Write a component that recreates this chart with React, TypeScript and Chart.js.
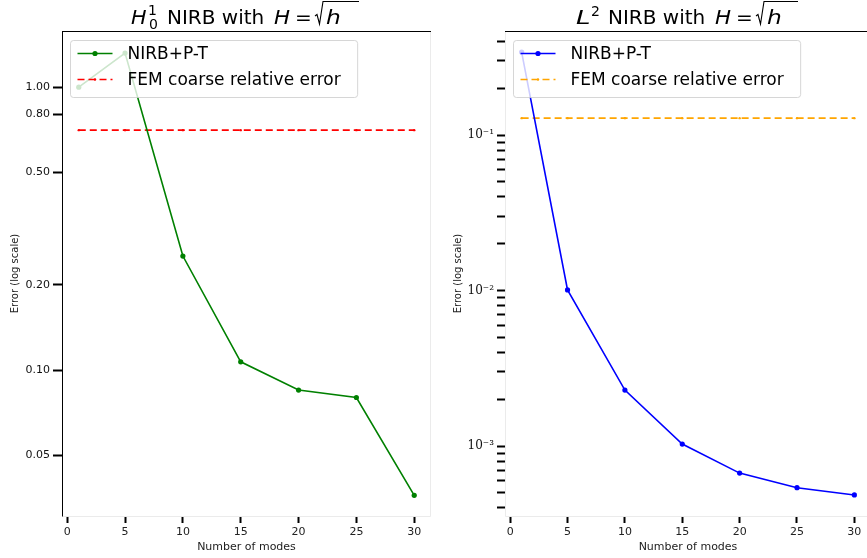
import React, { useEffect, useRef } from "react";
import { Chart, registerables } from "chart.js";

Chart.register(...registerables);

// ---------------- data ----------------
const modes = [1, 5, 10, 15, 20, 25, 30];
const h1NirbErrors = [1.0, 1.32, 0.253, 0.107, 0.085, 0.08, 0.0361];
const h1FemErrors = [0.705, 0.705, 0.705, 0.705, 0.705, 0.705, 0.705];
const l2NirbErrors = [0.342, 0.0101, 0.00229, 0.00103, 0.00067, 0.00054, 0.000485];
const l2FemErrors = [0.1285, 0.1285, 0.1285, 0.1285, 0.1285, 0.1285, 0.1285];

const seriesLabels = ["NIRB+P-T", "FEM coarse relative error"];
const xTitle = "Number of modes";
const yTitle = "Error (log scale)";

const xTickValues = [0, 5, 10, 15, 20, 25, 30];
const h1TickValues = [0.05, 0.1, 0.2, 0.5, 0.8, 1.0];
const h1TickLabels = ["0.05", "0.10", "0.20", "0.50", "0.80", "1.00"];
const l2TickValues = [
  0.0004, 0.0005, 0.0006, 0.0007, 0.0008, 0.0009,
  0.001, 0.002, 0.003, 0.004, 0.005, 0.006, 0.007, 0.008, 0.009,
  0.01, 0.02, 0.03, 0.04, 0.05, 0.06, 0.07, 0.08, 0.09,
  0.1, 0.2, 0.3, 0.4,
];
const l2MajorTicks = [0.001, 0.01, 0.1];
const l2MajorLabels = ["10\u207B\u00B3", "10\u207B\u00B2", "10\u207B\u00B9"];

// title pieces: dx = where the ink of the piece starts inside the title, w = ink width of math letters
type Seg = {
  dx: number;
  text?: string;
  italic?: boolean;
  w?: number;
  sup?: string;
  sub?: string;
  supY?: number;
  sqrt?: string;
  over?: number;
};
const h1Title = {
  width: 231,
  segs: [
    { dx: 0, text: "H", italic: true, w: 15.5 },
    { dx: 18, sup: "1", sub: "0", supY: -9 },
    { dx: 37, text: "NIRB with" },
    { dx: 143, text: "H", italic: true, w: 16 },
    { dx: 166, text: "=" },
    { dx: 184, sqrt: "h", w: 14, over: 228 },
  ] as Seg[],
};
const l2Title = {
  width: 224,
  segs: [
    { dx: 0, text: "L", italic: true, w: 13 },
    { dx: 16, sup: "2", supY: -8 },
    { dx: 33, text: "NIRB with" },
    { dx: 139, text: "H", italic: true, w: 16 },
    { dx: 162, text: "=" },
    { dx: 180, sqrt: "h", w: 14, over: 222 },
  ] as Seg[],
};

// ---------------- helpers ----------------
const FAM = "'DejaVu Sans'";
const fnt = (italic: boolean, size: number) => `${italic ? "italic " : ""}${size}px ${FAM}`;

function drawInk(ctx: CanvasRenderingContext2D, t: string, x: number, y: number, w?: number) {
  const m = ctx.measureText(t);
  const ink = m.actualBoundingBoxLeft + m.actualBoundingBoxRight;
  const sx = w && ink > 0 ? w / ink : 1;
  ctx.save();
  ctx.translate(x, y);
  ctx.scale(sx, 1);
  ctx.fillText(t, m.actualBoundingBoxLeft, 0);
  ctx.restore();
}

function drawRichTitle(ctx: CanvasRenderingContext2D, title: { width: number; segs: Seg[] }, cx: number, by: number) {
  const base = 20;
  const small = 14;
  const x0 = cx - title.width / 2;
  ctx.save();
  ctx.fillStyle = "#000";
  ctx.strokeStyle = "#000";
  ctx.textBaseline = "alphabetic";
  ctx.textAlign = "left";
  for (const s of title.segs) {
    const x = x0 + s.dx;
    if (s.sqrt !== undefined) {
      const end = x0 + (s.over ?? title.width);
      ctx.lineWidth = 1.1;
      ctx.beginPath();
      ctx.moveTo(x, by - 8);
      ctx.lineTo(x + 2, by - 9.5);
      ctx.lineTo(x + 4.5, by);
      ctx.lineTo(x + 8, by - 22.5);
      ctx.lineTo(end, by - 22.5);
      ctx.stroke();
      ctx.font = fnt(true, base);
      drawInk(ctx, s.sqrt, x + 11, by, s.w);
    } else if (s.sup !== undefined || s.sub !== undefined) {
      ctx.font = fnt(false, small);
      if (s.sup) drawInk(ctx, s.sup, x, by + (s.supY ?? -9));
      if (s.sub) drawInk(ctx, s.sub, x, by + 5);
    } else {
      ctx.font = fnt(!!s.italic, base);
      drawInk(ctx, s.text || "", x, by, s.w);
    }
  }
  ctx.restore();
}

const titlePlugin = {
  id: "richTitle",
  afterDraw(chart: any, _args: any, opts: any) {
    const ca = chart.chartArea;
    drawRichTitle(chart.ctx, opts.title, (ca.left + ca.right) / 2, 24);
  },
};

const spinePlugin = {
  id: "spines",
  beforeDatasetsDraw(chart: any, _args: any, opts: any) {
    const { ctx, chartArea: ca } = chart;
    const l = Math.round(ca.left) + 0.5;
    const r = Math.round(ca.right) - 0.5;
    const t = Math.round(ca.top) + 0.5;
    const b = Math.round(ca.bottom) + 0.5;
    ctx.save();
    ctx.lineWidth = 1;
    ctx.strokeStyle = "#ebebeb";
    ctx.beginPath();
    ctx.moveTo(l, b);
    ctx.lineTo(r, b);
    ctx.moveTo(r, t);
    ctx.lineTo(r, b);
    ctx.stroke();
    ctx.strokeStyle = opts.leftColor;
    ctx.beginPath();
    ctx.moveTo(l, t);
    ctx.lineTo(l, b);
    ctx.stroke();
    ctx.strokeStyle = "#000";
    ctx.beginPath();
    ctx.moveTo(ca.left, t);
    ctx.lineTo(ca.right, t);
    ctx.stroke();
    ctx.restore();
  },
};

const legendPlugin = {
  id: "boxLegend",
  afterDraw(chart: any) {
    const { ctx, chartArea: ca } = chart;
    const bx = ca.left + 8.5;
    const by = ca.top + 9.5;
    const textOff = 57;
    ctx.save();
    ctx.font = fnt(false, 17);
    let maxW = 0;
    chart.data.datasets.forEach((ds: any) => {
      maxW = Math.max(maxW, ctx.measureText(ds.label).width);
    });
    const bw = textOff + maxW + 17;
    const bh = 57;
    ctx.fillStyle = "rgba(255,255,255,0.8)";
    ctx.strokeStyle = "rgba(204,204,204,0.8)";
    ctx.lineWidth = 1;
    ctx.beginPath();
    (ctx as any).roundRect(bx, by, bw, bh, 3);
    ctx.fill();
    ctx.stroke();
    chart.data.datasets.forEach((ds: any, i: number) => {
      const y = by + 13 + i * 26;
      ctx.strokeStyle = ds.borderColor;
      ctx.lineWidth = ds.borderWidth;
      ctx.setLineDash(ds.borderDash || []);
      ctx.beginPath();
      ctx.moveTo(bx + 7, y);
      ctx.lineTo(bx + 42, y);
      ctx.stroke();
      ctx.setLineDash([]);
      ctx.fillStyle = ds.borderColor;
      ctx.beginPath();
      ctx.arc(bx + 24.5, y, ds.pointRadius, 0, Math.PI * 2);
      ctx.fill();
      ctx.fillStyle = "#000";
      ctx.textBaseline = "middle";
      ctx.textAlign = "left";
      ctx.fillText(ds.label, bx + textOff, y + 1);
    });
    ctx.restore();
  },
};

type Params = {
  nirb: number[];
  fem: number[];
  lineColor: string;
  femColor: string;
  yMin: number;
  yMax: number;
  yTicks: number[];
  yLabel: (v: number) => string;
  yTickFont: any;
  yWidth: number;
  yTickLength: number;
  yTitlePad: number;
  yLabelPad: number;
  padRight: number;
  leftSpine: string;
  title: { width: number; segs: Seg[] };
};

function makeConfig(p: Params): any {
  return {
    type: "line",
    data: {
      datasets: [
        {
          label: seriesLabels[0],
          data: modes.map((m, i) => ({ x: m, y: p.nirb[i] })),
          borderColor: p.lineColor,
          backgroundColor: p.lineColor,
          borderWidth: 1.6,
          pointRadius: 2.6,
          pointBorderWidth: 0,
          pointBackgroundColor: p.lineColor,
          tension: 0,
        },
        {
          label: seriesLabels[1],
          data: modes.map((m, i) => ({ x: m, y: p.fem[i] })),
          borderColor: p.femColor,
          backgroundColor: p.femColor,
          borderWidth: 1.6,
          borderDash: [7, 4],
          pointRadius: 1.2,
          pointBorderWidth: 0,
          pointBackgroundColor: p.femColor,
          tension: 0,
        },
      ],
    },
    options: {
      animation: false,
      responsive: true,
      maintainAspectRatio: false,
      layout: { padding: { top: 31, right: p.padRight, left: 0, bottom: 0 } },
      plugins: {
        legend: { display: false },
        tooltip: { enabled: false },
        title: { display: false },
        richTitle: { title: p.title },
        spines: { leftColor: p.leftSpine },
      },
      scales: {
        x: {
          type: "linear",
          min: -0.45,
          max: 31.45,
          afterBuildTicks: (s: any) => {
            s.ticks = xTickValues.map((v) => ({ value: v }));
          },
          afterFit: (s: any) => {
            s.height = 42;
          },
          ticks: {
            autoSkip: false,
            maxRotation: 0,
            padding: 3,
            color: "#222",
            font: { family: "DejaVu Sans", size: 11 },
            callback: (v: number) => String(v),
          },
          grid: {
            display: true,
            drawOnChartArea: false,
            drawTicks: true,
            tickLength: 7,
            tickWidth: 2,
            tickColor: "#000",
          },
          border: { display: false },
          title: {
            display: true,
            text: xTitle,
            color: "#222",
            font: { family: "DejaVu Sans", size: 11 },
            padding: { top: 0, bottom: 4 },
          },
        },
        y: {
          type: "logarithmic",
          min: p.yMin,
          max: p.yMax,
          afterBuildTicks: (s: any) => {
            s.ticks = p.yTicks.map((v) => ({ value: v }));
          },
          afterFit: (s: any) => {
            s.width = p.yWidth;
          },
          ticks: {
            autoSkip: false,
            padding: p.yLabelPad,
            color: "#111",
            font: p.yTickFont,
            callback: (v: number) => p.yLabel(v),
          },
          grid: {
            display: true,
            drawOnChartArea: false,
            drawTicks: true,
            tickLength: p.yTickLength,
            tickWidth: 2,
            tickColor: "#000",
          },
          border: { display: false },
          title: {
            display: true,
            text: yTitle,
            color: "#222",
            font: { family: "DejaVu Sans", size: 10 },
            padding: { top: p.yTitlePad, bottom: 0 },
          },
        },
      },
    },
    plugins: [spinePlugin, legendPlugin, titlePlugin],
  };
}

const close = (a: number, b: number) => Math.abs(a - b) / b < 1e-6;

export default function App() {
  const leftRef = useRef<HTMLCanvasElement>(null);
  const rightRef = useRef<HTMLCanvasElement>(null);

  useEffect(() => {
    const left = new Chart(
      leftRef.current as HTMLCanvasElement,
      makeConfig({
        nirb: h1NirbErrors,
        fem: h1FemErrors,
        lineColor: "#008000",
        femColor: "#ff0000",
        yMin: 0.0305,
        yMax: 1.58,
        yTicks: h1TickValues,
        yLabel: (v) => {
          const i = h1TickValues.findIndex((t) => close(v, t));
          return i >= 0 ? h1TickLabels[i] : "";
        },
        yTickFont: { family: "DejaVu Sans", size: 11 },
        yWidth: 62,
        yTickLength: 9,
        yTitlePad: 9,
        yLabelPad: 3,
        padRight: 9,
        leftSpine: "#000",
        title: h1Title,
      })
    );
    const right = new Chart(
      rightRef.current as HTMLCanvasElement,
      makeConfig({
        nirb: l2NirbErrors,
        fem: l2FemErrors,
        lineColor: "#0000ff",
        femColor: "#ffa500",
        yMin: 0.000355,
        yMax: 0.467,
        yTicks: l2TickValues,
        yLabel: (v) => {
          const i = l2MajorTicks.findIndex((t) => close(v, t));
          return i >= 0 ? l2MajorLabels[i] : "";
        },
        yTickFont: { family: "DejaVu Serif", size: 12 },
        yWidth: 65,
        yTickLength: 8,
        yTitlePad: 12,
        yLabelPad: 3,
        padRight: 0,
        leftSpine: "#ebebeb",
        title: l2Title,
      })
    );
    return () => {
      left.destroy();
      right.destroy();
    };
  }, []);

  return (
    <div
      style={{
        position: "fixed",
        left: 0,
        top: 0,
        width: 867,
        height: 558,
        overflow: "hidden",
        background: "#fff",
      }}
    >
      <div style={{ position: "absolute", left: 0, top: 0, width: 440, height: 558 }}>
        <canvas ref={leftRef} />
      </div>
      <div style={{ position: "absolute", left: 440, top: 0, width: 435, height: 558 }}>
        <canvas ref={rightRef} />
      </div>
    </div>
  );
}
